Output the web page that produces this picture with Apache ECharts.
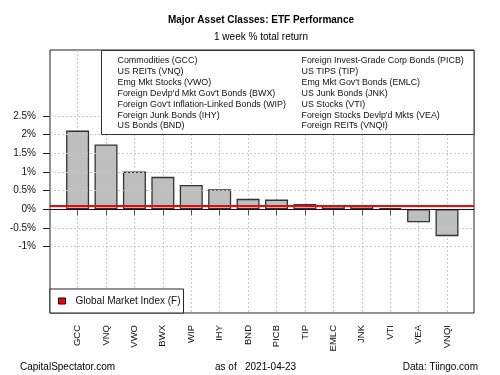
<!DOCTYPE html>
<html>
<head>
<meta charset="utf-8">
<script src="https://cdn.jsdelivr.net/npm/echarts@6/dist/echarts.min.js"></script>
<style>
  html, body { margin: 0; padding: 0; background: #fff; }
  #chart { width: 500px; height: 375px; }
</style>
</head>
<body>
<div id="chart"></div>
<script>
// 数据: 1 week % total return
var tickers = ['GCC', 'VNQ', 'VWO', 'BWX', 'WIP', 'IHY', 'BND', 'PICB', 'TIP', 'EMLC', 'JNK', 'VTI', 'VEA', 'VNQI']
var returns = [2.11, 1.74, 1.01, 0.87, 0.65, 0.54, 0.28, 0.26, 0.14, 0.09, 0.09, 0.03, -0.35, -0.72]
var fundNames = [
  'Commodities (GCC)',
  'US REITs (VNQ)',
  'Emg Mkt Stocks (VWO)',
  "Foreign Devlp'd Mkt Gov't Bonds (BWX)",
  "Foreign Gov't Inflation-Linked Bonds (WIP)",
  'Foreign Junk Bonds (IHY)',
  'US Bonds (BND)',
  'Foreign Invest-Grade Corp Bonds (PICB)',
  'US TIPS (TIP)',
  "Emg Mkt Gov't Bonds (EMLC)",
  'US Junk Bonds (JNK)',
  'US Stocks (VTI)',
  "Foreign Stocks Devlp'd Mkts (VEA)",
  'Foreign REITs (VNQI)'
]
var gmiName = 'Global Market Index (F)'
var gmiReturn = 0.1
var yTicks = [-1, -0.5, 0, 0.5, 1, 1.5, 2, 2.5]
var yMin = -2.78
var yMax = 4.27

var font = '"Liberation Sans", Arial, sans-serif'
var dotted = { color: '#c8c8c8', width: 1, type: [2, 2] }

// 右上角的说明框
var graphics = [{
  type: 'rect',
  z: 100,
  shape: { x: 101.5, y: 50.5, width: 372.5, height: 84 },
  style: { fill: '#fff', stroke: '#333', lineWidth: 1 }
}]
fundNames.forEach(function (name, i) {
  var col = i < 7 ? 0 : 1
  var row = i % 7
  graphics.push({
    type: 'text',
    z: 101,
    x: col === 0 ? 117.5 : 301.5,
    y: 61 + row * 10.83,
    style: { text: name, fill: '#111', font: '8.9px ' + font, textVerticalAlign: 'middle' }
  })
})
// 标题和脚注
function addText (text, x, y, size, align, bold) {
  graphics.push({
    type: 'text',
    z: 101,
    x: x,
    y: y,
    style: {
      text: text,
      fill: '#000',
      font: (bold ? 'bold ' : '') + size + 'px ' + font,
      textAlign: align,
      textVerticalAlign: 'middle'
    }
  })
}
addText('Major Asset Classes: ETF Performance', 261, 20, 10, 'center', true)
addText('1 week % total return', 261, 37, 10, 'center', false)
addText('CapitalSpectator.com', 20, 367, 10, 'left', false)
addText('as of', 215, 367, 10, 'left', false)
addText('2021-04-23', 245, 367, 10, 'left', false)
addText('Data: Tiingo.com', 478, 367, 10, 'right', false)

var myChart = echarts.init(document.getElementById('chart'))
var option = {
  animation: false,
  grid: [
    // 外框
    { left: 50, right: 26, top: 50, bottom: 62, show: true, borderColor: '#222', borderWidth: 1, backgroundColor: 'transparent' },
    // 柱子
    { left: 77.6, right: 53, top: 50, bottom: 62 }
  ],
  xAxis: [
    { gridIndex: 0, type: 'value', min: 0, max: 1, show: false },
    {
      gridIndex: 1,
      type: 'category',
      data: tickers,
      boundaryGap: false,
      axisLine: { show: false },
      axisTick: { show: true, length: 6, lineStyle: { color: '#555', width: 1 } },
      axisLabel: { rotate: 90, margin: 12, fontSize: 9.5, color: '#111', fontFamily: font, interval: 0 },
      splitLine: { show: true, lineStyle: dotted }
    }
  ],
  yAxis: [
    {
      gridIndex: 0,
      type: 'value',
      min: yMin,
      max: yMax,
      axisLine: { show: false },
      axisTick: { show: true, length: 7, customValues: yTicks, lineStyle: { color: '#222' } },
      axisLabel: {
        customValues: yTicks,
        margin: 14,
        fontSize: 10,
        color: '#111',
        fontFamily: font,
        formatter: function (v) { return v + '%' }
      },
      splitLine: { show: false }
    },
    { gridIndex: 1, type: 'value', min: yMin, max: yMax, show: false }
  ],
  legend: {
    data: [{ name: gmiName, icon: 'rect' }],
    left: 50,
    top: 289,
    padding: [7, 3, 7, 8],
    itemWidth: 7,
    itemHeight: 6,
    backgroundColor: '#fff',
    borderColor: '#222',
    borderWidth: 1,
    selectedMode: false,
    itemStyle: { color: '#ff0000', borderColor: '#000', borderWidth: 1 },
    textStyle: { fontSize: 10, color: '#111', fontFamily: font, padding: [0, 0, 0, 5] }
  },
  graphic: graphics,
  series: [
    {
      // 横向网格线
      type: 'line',
      xAxisIndex: 0,
      yAxisIndex: 0,
      data: [],
      z: 1,
      silent: true,
      markLine: {
        silent: true,
        symbol: ['none', 'none'],
        label: { show: false },
        lineStyle: dotted,
        data: yTicks.map(function (v) { return { yAxis: v } })
      }
    },
    {
      type: 'bar',
      xAxisIndex: 1,
      yAxisIndex: 1,
      data: returns,
      barWidth: 23,
      clip: false,
      z: 2,
      itemStyle: { color: '#bebebe', borderColor: '#333', borderWidth: 1.3 }
    },
    {
      // 零线和全球市场指数
      name: gmiName,
      type: 'line',
      xAxisIndex: 0,
      yAxisIndex: 0,
      data: [],
      z: 5,
      itemStyle: { color: '#ff0000' },
      markLine: {
        silent: true,
        symbol: ['none', 'none'],
        label: { show: false },
        data: [
          { yAxis: 0, lineStyle: { color: '#111', width: 1, type: 'solid' } },
          { yAxis: gmiReturn, lineStyle: { color: '#ff0000', width: 2, type: 'solid' } }
        ]
      }
    }
  ]
}
myChart.setOption(option)
</script>
</body>
</html>
